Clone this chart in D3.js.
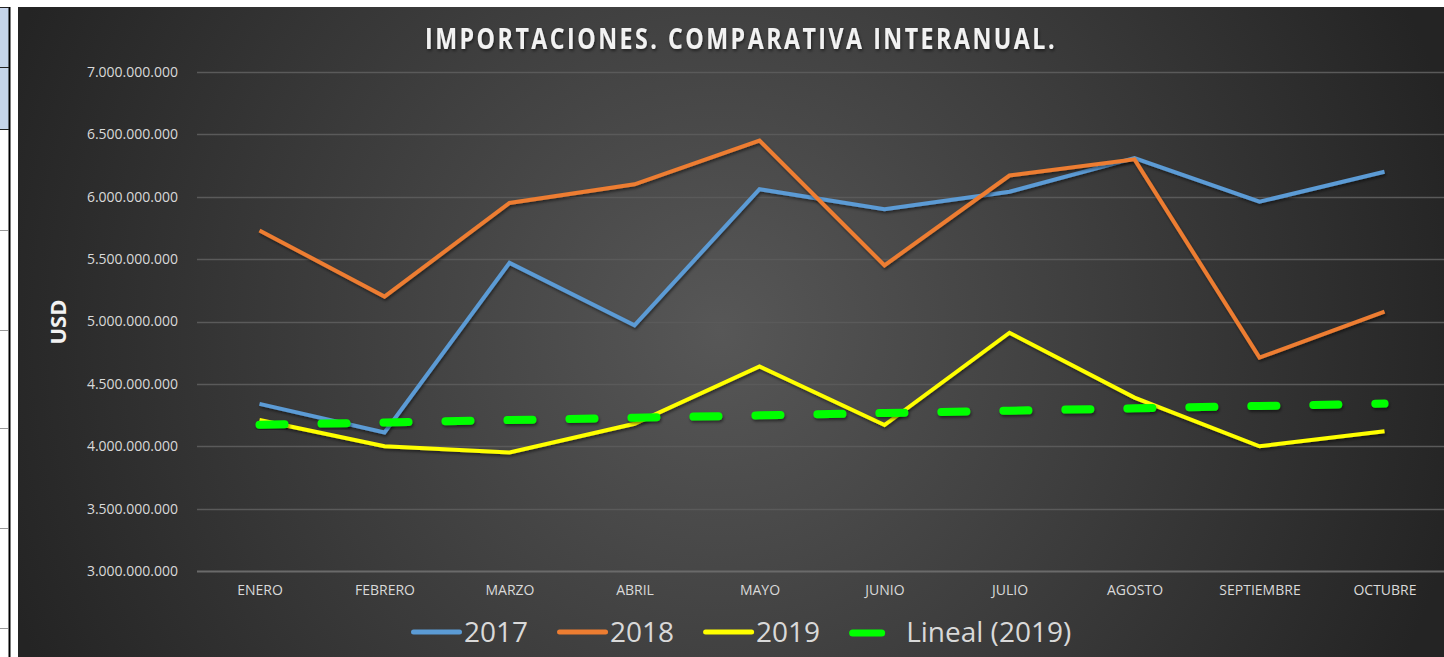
<!DOCTYPE html>
<html lang="es">
<head>
<meta charset="UTF-8">
<title>Importaciones. Comparativa interanual</title>
<style>
    html, body { margin: 0; padding: 0; overflow: hidden; background: #fff; }
    svg { display: block; }
    text { font-family: "Open Sans", sans-serif; }
</style>
</head>
<body>
<script src="https://cdn.jsdelivr.net/npm/d3@7"></script>
<script>

const months = ['ENERO', 'FEBRERO', 'MARZO', 'ABRIL', 'MAYO', 'JUNIO', 'JULIO', 'AGOSTO', 'SEPTIEMBRE', 'OCTUBRE']
const v2017 = [4.34e9, 4.11e9, 5.47e9, 4.97e9, 6.06e9, 5.90e9, 6.04e9, 6.31e9, 5.96e9, 6.20e9]
const v2018 = [5.73e9, 5.20e9, 5.95e9, 6.10e9, 6.45e9, 5.45e9, 6.17e9, 6.30e9, 4.71e9, 5.08e9]
const v2019 = [4.21e9, 4.00e9, 3.95e9, 4.18e9, 4.64e9, 4.17e9, 4.91e9, 4.39e9, 4.00e9, 4.12e9]
const yTicks = [3e9, 3.5e9, 4e9, 4.5e9, 5e9, 5.5e9, 6e9, 6.5e9, 7e9]

const series = [
    { name: '2017', values: v2017, color: '#5b9bd5' },
    { name: '2018', values: v2018, color: '#ed7d31' },
    { name: '2019', values: v2019, color: '#ffff00' }
]

// linear trendline (excel "Lineal") of 2019
const n = v2019.length
const mx = (n + 1) / 2
const my = d3.mean(v2019)
let sxy = 0, sxx = 0
v2019.forEach((v, i) => { sxy += (i + 1 - mx) * (v - my); sxx += (i + 1 - mx) ** 2 })
const slope = sxy / sxx
const trend = months.map((m, i) => my + slope * (i + 1 - mx))

const width = 1444, height = 657
const svg = d3.select('body').append('svg').attr('width', width).attr('height', height)

// spreadsheet strip on the left
svg.append('rect').attr('x', 0).attr('y', 7).attr('width', 9).attr('height', 123).attr('fill', '#c5d4ea')
svg.append('line').attr('x1', 9.5).attr('x2', 9.5).attr('y1', 7).attr('y2', height).attr('stroke', '#000').attr('stroke-width', 2)
;[7.5, 67.5, 129.5].forEach(yy => {
    svg.append('line').attr('x1', 0).attr('x2', 9).attr('y1', yy).attr('y2', yy).attr('stroke', '#222').attr('stroke-width', 1)
})
;[230, 330, 428, 528, 628].forEach(yy => {
    svg.append('line').attr('x1', 0).attr('x2', 8).attr('y1', yy + 0.5).attr('y2', yy + 0.5).attr('stroke', '#999')
})

// chart background
const defs = svg.append('defs')
const grad = defs.append('radialGradient').attr('id', 'bg')
    .attr('gradientUnits', 'userSpaceOnUse')
    .attr('cx', 720).attr('cy', 330).attr('r', 760)
grad.append('stop').attr('offset', '0%').attr('stop-color', '#575757')
grad.append('stop').attr('offset', '100%').attr('stop-color', '#242424')

const shadow = defs.append('filter').attr('id', 'shadow').attr('x', '-5%').attr('y', '-20%').attr('width', '110%').attr('height', '140%')
shadow.append('feDropShadow').attr('dx', 1).attr('dy', 2).attr('stdDeviation', 1.5).attr('flood-color', '#000').attr('flood-opacity', 0.5)

svg.append('rect').attr('x', 18).attr('y', 7).attr('width', width - 18).attr('height', height - 7).attr('fill', 'url(#bg)')

const x = d3.scalePoint().domain(months).range([197, 1447]).padding(0.5)
const y = d3.scaleLinear().domain([3e9, 7e9]).range([571, 72])

const loc = d3.formatLocale({ decimal: ',', thousands: '.', grouping: [3], currency: ['', ''] })
const fmt = loc.format(',.0f')

// grid
svg.append('g').selectAll('line').data(yTicks).enter().append('line')
    .attr('x1', 197).attr('x2', width)
    .attr('y1', d => Math.round(y(d)) + 0.5).attr('y2', d => Math.round(y(d)) + 0.5)
    .attr('stroke', d => d === 3e9 ? '#6a6a6a' : '#5a5a5a')
    .attr('stroke-width', d => d === 3e9 ? 2 : 1.3)

// y axis
const yAxis = svg.append('g').attr('transform', 'translate(186,0)')
    .call(d3.axisLeft(y).tickValues(yTicks).tickFormat(fmt).tickSize(0).tickPadding(8))
yAxis.select('.domain').remove()
yAxis.selectAll('text').attr('fill', '#d9d9d9').style('font-size', '14px').style('font-family', '"Open Sans", sans-serif')

// x axis
const xAxis = svg.append('g').attr('transform', 'translate(0,571)')
    .call(d3.axisBottom(x).tickSize(0).tickPadding(14))
xAxis.select('.domain').remove()
xAxis.selectAll('text').attr('fill', '#d9d9d9').style('font-size', '14px').style('font-family', '"Open Sans", sans-serif')

// USD
svg.append('text')
    .attr('transform', 'translate(66,322) rotate(-90)')
    .attr('text-anchor', 'middle')
    .attr('fill', '#f2f2f2')
    .style('font-weight', 'bold').style('font-size', '22px')
    .text('USD')

// title
svg.append('text')
    .attr('x', 425).attr('y', 49)
    .attr('textLength', 632).attr('lengthAdjust', 'spacingAndGlyphs')
    .attr('fill', '#f2f2f2')
    .attr('filter', 'url(#shadow)')
    .style('font-weight', 'bold').style('font-size', '28px').style('letter-spacing', '3px')
    .text('IMPORTACIONES. COMPARATIVA INTERANUAL.')

const line = d3.line().x((d, i) => x(months[i])).y(d => y(d))

svg.append('g').selectAll('path').data(series).enter().append('path')
    .attr('d', d => line(d.values))
    .attr('fill', 'none')
    .attr('stroke', d => d.color)
    .attr('stroke-width', 4)
    .attr('stroke-linejoin', 'miter')
    .attr('filter', 'url(#shadow)')

svg.append('path')
    .attr('d', line(trend))
    .attr('fill', 'none')
    .attr('stroke', '#00ff00')
    .attr('stroke-width', 8)
    .attr('stroke-linecap', 'round')
    .attr('stroke-dasharray', '25, 37')
    .attr('filter', 'url(#shadow)')

// legend
const legendItems = series.map(s => ({ name: s.name, color: s.color, dash: false }))
legendItems.push({ name: 'Lineal (2019)', color: '#00ff00', dash: true })

const legend = svg.append('g').attr('transform', 'translate(411,632)')
let lx = 0
legendItems.forEach(it => {
    const g = legend.append('g').attr('transform', `translate(${lx},0)`)
    let tx
    if (it.dash) {
        g.append('line').attr('x1', 3.5).attr('x2', 32.5).attr('y1', 1).attr('y2', 1)
            .attr('stroke', it.color).attr('stroke-width', 7).attr('stroke-linecap', 'round')
        tx = 57
    } else {
        g.append('line').attr('x1', 2.5).attr('x2', 48.5).attr('y1', 0).attr('y2', 0)
            .attr('stroke', it.color).attr('stroke-width', 5).attr('stroke-linecap', 'round')
        tx = 53
    }
    const t = g.append('text').attr('x', tx).attr('y', 10)
        .attr('fill', '#d9d9d9').style('font-size', '28px')
        .text(it.name)
    lx += tx + t.node().getComputedTextLength() + 29
})

</script>
</body>
</html>
